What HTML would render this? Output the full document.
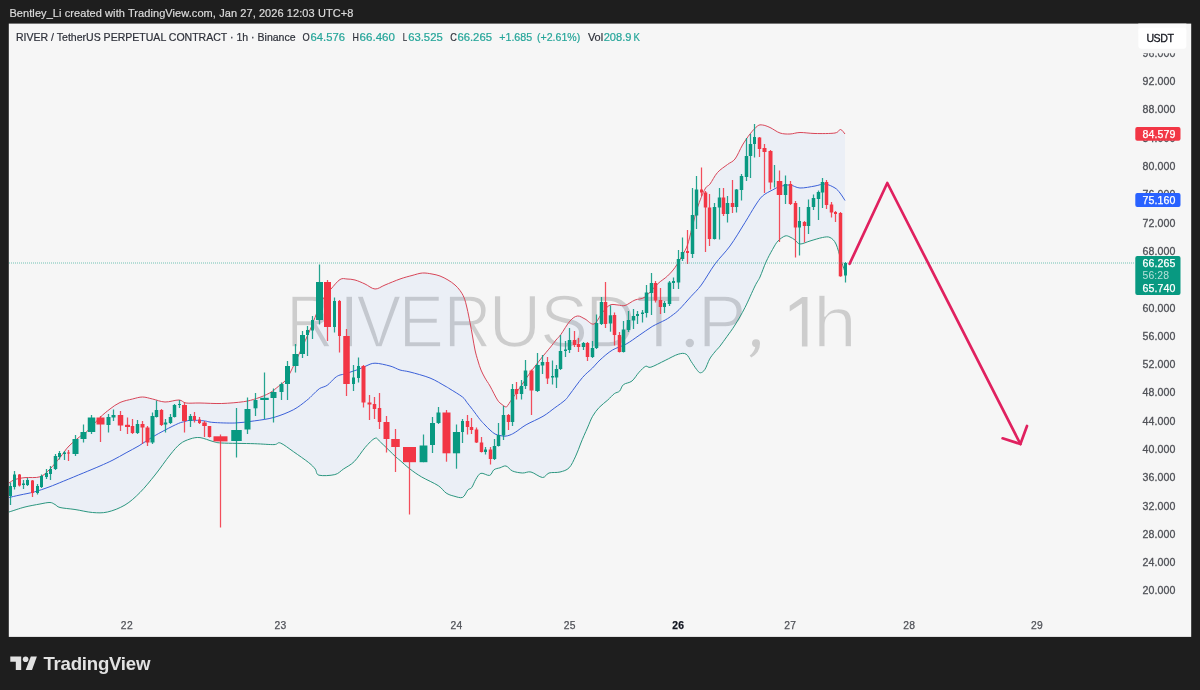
<!DOCTYPE html>
<html><head><meta charset="utf-8"><title>RIVERUSDT.P 1h</title>
<style>html,body{margin:0;padding:0;background:#1e1e1e;}body{width:1200px;height:690px;overflow:hidden;}svg{display:block;will-change:transform;}text{font-family:"Liberation Sans",sans-serif;}</style>
</head><body>
<svg width="1200" height="690" viewBox="0 0 1200 690">
<rect x="0" y="0" width="1200" height="690" fill="#1e1e1e"/>
<text x="9.4" y="17" font-size="11" fill="#dcdcdc" stroke="#dcdcdc" stroke-width="0.2" textLength="344" lengthAdjust="spacing">Bentley_Li created with TradingView.com, Jan 27, 2026 12:03 UTC+8</text>
<rect x="8.8" y="23.6" width="1182.4" height="613.3" fill="#f6f6f6"/>
<clipPath id="cc"><rect x="9" y="23.5" width="1182" height="613"/></clipPath>
<g clip-path="url(#cc)">
<g fill="#cdcdcd" stroke="#f6f6f6" stroke-width="1.6" font-size="74.1">
<text transform="translate(286.30 347.30) scale(0.8886 1)" vector-effect="non-scaling-stroke">R</text>
<text transform="translate(338.47 347.30) scale(1.0426 1)" vector-effect="non-scaling-stroke">I</text>
<text transform="translate(356.41 347.30) scale(0.9042 1)" vector-effect="non-scaling-stroke">V</text>
<text transform="translate(398.66 347.30) scale(0.9113 1)" vector-effect="non-scaling-stroke">E</text>
<text transform="translate(443.80 347.30) scale(0.8886 1)" vector-effect="non-scaling-stroke">R</text>
<text transform="translate(488.55 347.30) scale(0.9886 1)" vector-effect="non-scaling-stroke">U</text>
<text transform="translate(539.92 347.30) scale(0.9752 1)" vector-effect="non-scaling-stroke">S</text>
<text transform="translate(585.17 347.30) scale(0.9433 1)" vector-effect="non-scaling-stroke">D</text>
<text transform="translate(635.91 347.30) scale(1.0120 1)" vector-effect="non-scaling-stroke">T</text>
<text transform="translate(697.72 347.30) scale(0.9837 1)" vector-effect="non-scaling-stroke">P</text>
<text transform="translate(813.03 347.30) scale(1.0652 0.973)" vector-effect="non-scaling-stroke">h</text>
</g>
<circle cx="689.8" cy="343" r="4.2" fill="#cdcdcd"/>
<path d="M752 343.2a4 4 0 1 1 8 0.3Q760 352.5 751.2 357.6L749.7 355.6Q754.6 351.8 755.2 347.1A4 4 0 0 1 752 343.2Z" fill="#cdcdcd"/>
<path d="M789.7 305.8L802.3 297.1H807.5V346.5H801.9V303.6L789.7 311.6Z" fill="#cdcdcd"/>
<path d="M9.0 483.0C10.0 482.4 12.3 480.4 15.0 479.5C17.7 478.6 20.8 478.1 25.0 477.6C29.2 477.2 35.8 478.2 40.0 476.8C44.2 475.4 46.7 472.2 50.0 469.0C53.3 465.8 56.8 461.3 60.0 457.5C63.2 453.7 65.2 449.8 69.0 446.0C72.8 442.2 79.4 437.0 82.5 434.5C85.6 432.0 84.6 433.8 87.5 431.0C90.4 428.2 96.2 421.2 100.0 417.5C103.8 413.8 106.7 411.5 110.0 409.0C113.3 406.5 116.2 404.2 120.0 402.5C123.8 400.8 128.8 399.9 132.5 399.0C136.2 398.1 139.2 397.0 142.5 397.0C145.8 397.0 148.8 398.2 152.5 399.0C156.2 399.8 160.6 401.8 165.0 402.0C169.4 402.2 175.5 399.8 179.0 400.0C182.5 400.2 182.5 402.5 186.0 403.0C189.5 403.5 194.1 402.9 200.0 403.0C205.9 403.1 214.4 403.7 221.7 403.5C228.9 403.3 237.7 402.5 243.5 401.7C249.3 400.9 252.2 399.9 256.5 398.5C260.9 397.1 266.0 395.0 269.6 393.0C273.2 391.0 275.7 388.5 278.3 386.5C280.9 384.5 283.1 383.2 285.0 381.0C286.9 378.8 287.5 377.8 290.0 373.0C292.5 368.2 296.7 359.2 300.0 352.0C303.3 344.8 307.5 335.8 310.0 330.0C312.5 324.2 313.3 321.7 315.0 317.5C316.7 313.3 318.3 308.6 320.0 305.0C321.7 301.4 323.2 298.7 325.0 296.0C326.8 293.3 328.5 291.8 331.0 289.0C333.5 286.2 337.3 281.2 340.0 279.5C342.7 277.8 344.5 278.9 347.0 279.0C349.5 279.1 352.0 279.2 355.0 280.0C358.0 280.8 361.7 282.5 365.0 284.0C368.3 285.5 371.7 288.8 375.0 289.0C378.3 289.2 380.8 286.7 385.0 285.0C389.2 283.3 395.5 280.6 400.0 279.0C404.5 277.4 408.2 276.5 412.0 275.5C415.8 274.5 419.2 273.2 422.5 273.0C425.8 272.8 429.1 273.5 432.0 274.0C434.9 274.5 437.3 275.0 440.0 276.0C442.7 277.0 445.5 278.5 448.0 280.0C450.5 281.5 453.0 283.2 455.0 285.0C457.0 286.8 458.5 288.4 460.0 290.5C461.5 292.6 462.8 294.6 464.0 297.5C465.2 300.4 466.0 303.8 467.0 308.0C468.0 312.2 469.1 317.8 470.0 322.5C470.9 327.2 471.7 331.4 472.5 336.0C473.3 340.6 474.1 345.8 475.0 350.0C475.9 354.2 477.0 357.7 478.0 361.0C479.0 364.3 479.8 367.2 481.0 370.0C482.2 372.8 483.5 375.3 485.0 378.0C486.5 380.7 487.9 382.3 490.0 386.0C492.1 389.7 495.5 396.9 497.5 400.0C499.5 403.1 500.6 403.3 502.0 404.5C503.4 405.7 505.0 406.9 506.0 407.0C507.0 407.1 507.2 405.9 508.0 405.0C508.8 404.1 509.3 403.0 510.5 401.3C511.7 399.6 513.1 397.5 515.0 394.7C516.9 391.9 519.7 387.9 522.0 384.5C524.3 381.1 526.7 377.6 529.0 374.3C531.3 371.1 533.9 367.7 536.0 365.0C538.1 362.3 539.8 360.1 541.5 358.0C543.2 355.9 544.5 354.3 546.0 352.5C547.5 350.7 548.9 349.1 550.6 347.0C552.3 344.9 554.3 342.1 556.0 340.0C557.7 337.9 558.7 337.5 561.0 334.3C563.3 331.1 567.2 324.1 570.0 321.0C572.8 317.9 575.0 316.3 577.5 316.0C580.0 315.7 582.2 317.7 585.0 319.0C587.8 320.3 591.1 325.1 594.0 324.0C596.9 322.9 599.8 315.7 602.5 312.5C605.2 309.3 607.4 306.2 610.0 305.0C612.6 303.8 615.5 304.9 618.0 305.0C620.5 305.1 622.2 306.3 625.0 305.5C627.8 304.7 631.7 301.4 635.0 300.0C638.3 298.6 641.2 299.7 645.0 297.0C648.8 294.3 653.8 287.5 657.5 284.0C661.2 280.5 664.6 278.8 667.5 276.0C670.4 273.2 672.5 271.0 675.0 267.5C677.5 264.0 680.4 258.8 682.5 255.0C684.6 251.2 685.9 249.5 687.5 245.0C689.1 240.5 690.3 234.2 692.0 228.0C693.7 221.8 695.3 214.0 697.5 207.5C699.7 201.0 702.9 192.9 705.0 189.0C707.1 185.1 707.9 186.8 710.0 184.0C712.1 181.2 714.6 175.8 717.5 172.5C720.4 169.2 724.6 166.8 727.5 164.5C730.4 162.2 732.5 162.2 735.0 159.0C737.5 155.8 740.0 149.2 742.5 145.0C745.0 140.8 747.5 137.2 750.0 134.0C752.5 130.8 755.4 127.5 757.5 126.0C759.6 124.5 760.4 124.8 762.5 125.0C764.6 125.2 767.1 126.2 770.0 127.5C772.9 128.8 776.7 131.9 780.0 133.0C783.3 134.1 786.7 134.1 790.0 134.0C793.3 133.9 795.8 132.6 800.0 132.5C804.2 132.4 809.2 133.4 815.0 133.5C820.8 133.6 830.8 133.7 835.0 133.0C839.2 132.3 838.8 129.3 840.5 129.5C842.2 129.7 844.2 133.2 845.0 134.0L845.0 272.0C844.3 270.0 842.5 264.7 841.0 260.0C839.5 255.3 837.8 247.8 836.0 244.0C834.2 240.2 832.2 238.6 830.0 237.5C827.8 236.4 825.8 236.9 822.5 237.5C819.2 238.1 813.8 239.9 810.0 241.0C806.2 242.1 802.5 244.2 800.0 244.0C797.5 243.8 796.7 241.2 795.0 240.0C793.3 238.8 791.7 237.7 790.0 237.0C788.3 236.3 787.0 235.3 785.0 236.0C783.0 236.7 780.1 238.8 778.0 241.0C775.9 243.2 774.5 246.0 772.5 249.5C770.5 253.0 768.1 257.4 766.0 262.0C763.9 266.6 761.8 273.0 760.0 277.0C758.2 281.0 757.5 280.9 755.0 286.0C752.5 291.1 748.3 301.0 745.0 307.5C741.7 314.0 738.0 320.2 735.0 325.0C732.0 329.8 729.5 333.0 727.0 336.5C724.5 340.0 722.0 343.5 720.0 346.1C718.0 348.7 716.5 349.8 714.8 352.0C713.1 354.2 711.2 356.2 709.6 359.1C708.0 362.0 706.5 367.0 705.0 369.3C703.5 371.6 701.8 372.8 700.4 372.8C699.0 372.8 698.0 371.2 696.5 369.3C695.0 367.4 693.0 364.2 691.3 361.7C689.6 359.2 688.3 355.4 686.1 354.2C683.9 352.9 681.8 353.2 678.3 354.2C674.8 355.2 669.8 358.2 665.2 360.4C660.6 362.6 654.1 366.2 650.9 367.2C647.6 368.2 647.7 365.5 645.7 366.3C643.7 367.1 641.4 369.8 639.1 372.2C636.8 374.6 634.6 378.9 632.0 381.0C629.4 383.1 625.6 382.9 623.5 384.6C621.4 386.3 621.1 389.6 619.6 391.1C618.1 392.6 616.3 392.2 614.3 393.7C612.3 395.2 610.3 397.7 607.8 400.0C605.3 402.3 601.6 404.8 599.1 407.5C596.6 410.2 594.6 412.9 592.6 416.3C590.6 419.7 589.4 423.6 587.4 428.0C585.4 432.4 582.8 438.3 580.9 443.0C579.0 447.7 577.7 452.0 575.7 456.1C573.7 460.2 571.7 465.2 569.1 467.8C566.5 470.4 563.4 471.1 560.0 472.0C556.6 472.9 551.9 472.1 549.0 473.0C546.1 473.9 545.5 477.7 542.5 477.5C539.5 477.3 534.3 472.8 531.0 472.0C527.7 471.2 525.6 473.2 522.5 473.0C519.4 472.8 515.2 472.2 512.5 471.0C509.8 469.8 508.1 466.5 506.0 466.0C503.9 465.5 502.0 467.2 500.0 467.8C498.0 468.4 495.6 468.5 493.9 469.8C492.2 471.1 491.8 474.8 489.6 475.4C487.4 476.0 483.2 472.6 480.9 473.3C478.6 474.0 477.2 477.2 475.7 479.6C474.2 482.0 473.0 485.9 471.7 487.6C470.4 489.3 469.3 488.4 467.8 490.0C466.3 491.6 464.9 496.4 462.6 497.4C460.3 498.4 456.6 496.8 453.9 496.1C451.1 495.4 448.7 494.7 446.1 493.0C443.5 491.3 442.4 488.4 438.3 485.7C434.2 483.0 426.5 479.8 421.7 477.0C416.9 474.2 413.2 471.5 409.6 468.7C406.0 465.9 402.3 462.4 400.0 460.4C397.7 458.4 399.0 459.9 395.7 456.8C392.4 453.7 383.8 445.1 380.4 442.0C376.9 438.9 377.5 437.4 375.0 438.3C372.5 439.2 368.6 443.5 365.2 447.4C361.8 451.3 357.9 457.9 354.3 461.5C350.7 465.1 346.8 466.8 343.5 469.0C340.2 471.2 338.9 473.6 334.8 474.6C330.7 475.6 322.3 476.1 319.0 475.2C315.7 474.3 316.9 471.1 315.2 469.0C313.5 466.9 312.3 465.5 308.7 462.6C305.1 459.7 298.2 455.0 293.5 451.7C288.8 448.4 283.6 444.2 280.4 443.0C277.1 441.8 278.4 444.5 274.0 444.6C269.6 444.7 263.0 444.0 254.3 443.7C245.6 443.4 228.6 443.4 221.7 443.0C214.8 442.6 216.6 442.4 213.0 441.5C209.4 440.6 203.8 438.0 200.0 437.6C196.2 437.2 193.3 437.9 190.0 439.0C186.7 440.1 183.3 441.3 180.0 444.0C176.7 446.7 174.2 449.8 170.0 455.0C165.8 460.2 160.0 468.8 155.0 475.0C150.0 481.2 145.0 487.5 140.0 492.5C135.0 497.5 130.4 501.8 125.0 505.0C119.6 508.2 112.9 510.8 107.5 512.0C102.1 513.2 97.9 512.9 92.5 512.5C87.1 512.1 80.4 510.3 75.0 509.5C69.6 508.7 63.3 508.3 60.0 507.5C56.7 506.7 56.7 505.3 55.0 504.5C53.3 503.7 52.5 502.6 50.0 502.5C47.5 502.4 44.2 503.2 40.0 504.0C35.8 504.8 30.2 505.7 25.0 507.0C19.8 508.3 11.7 511.2 9.0 512.0Z" fill="#2878ff" fill-opacity="0.05"/>
<path d="M9.0 483.0C10.0 482.4 12.3 480.4 15.0 479.5C17.7 478.6 20.8 478.1 25.0 477.6C29.2 477.2 35.8 478.2 40.0 476.8C44.2 475.4 46.7 472.2 50.0 469.0C53.3 465.8 56.8 461.3 60.0 457.5C63.2 453.7 65.2 449.8 69.0 446.0C72.8 442.2 79.4 437.0 82.5 434.5C85.6 432.0 84.6 433.8 87.5 431.0C90.4 428.2 96.2 421.2 100.0 417.5C103.8 413.8 106.7 411.5 110.0 409.0C113.3 406.5 116.2 404.2 120.0 402.5C123.8 400.8 128.8 399.9 132.5 399.0C136.2 398.1 139.2 397.0 142.5 397.0C145.8 397.0 148.8 398.2 152.5 399.0C156.2 399.8 160.6 401.8 165.0 402.0C169.4 402.2 175.5 399.8 179.0 400.0C182.5 400.2 182.5 402.5 186.0 403.0C189.5 403.5 194.1 402.9 200.0 403.0C205.9 403.1 214.4 403.7 221.7 403.5C228.9 403.3 237.7 402.5 243.5 401.7C249.3 400.9 252.2 399.9 256.5 398.5C260.9 397.1 266.0 395.0 269.6 393.0C273.2 391.0 275.7 388.5 278.3 386.5C280.9 384.5 283.1 383.2 285.0 381.0C286.9 378.8 287.5 377.8 290.0 373.0C292.5 368.2 296.7 359.2 300.0 352.0C303.3 344.8 307.5 335.8 310.0 330.0C312.5 324.2 313.3 321.7 315.0 317.5C316.7 313.3 318.3 308.6 320.0 305.0C321.7 301.4 323.2 298.7 325.0 296.0C326.8 293.3 328.5 291.8 331.0 289.0C333.5 286.2 337.3 281.2 340.0 279.5C342.7 277.8 344.5 278.9 347.0 279.0C349.5 279.1 352.0 279.2 355.0 280.0C358.0 280.8 361.7 282.5 365.0 284.0C368.3 285.5 371.7 288.8 375.0 289.0C378.3 289.2 380.8 286.7 385.0 285.0C389.2 283.3 395.5 280.6 400.0 279.0C404.5 277.4 408.2 276.5 412.0 275.5C415.8 274.5 419.2 273.2 422.5 273.0C425.8 272.8 429.1 273.5 432.0 274.0C434.9 274.5 437.3 275.0 440.0 276.0C442.7 277.0 445.5 278.5 448.0 280.0C450.5 281.5 453.0 283.2 455.0 285.0C457.0 286.8 458.5 288.4 460.0 290.5C461.5 292.6 462.8 294.6 464.0 297.5C465.2 300.4 466.0 303.8 467.0 308.0C468.0 312.2 469.1 317.8 470.0 322.5C470.9 327.2 471.7 331.4 472.5 336.0C473.3 340.6 474.1 345.8 475.0 350.0C475.9 354.2 477.0 357.7 478.0 361.0C479.0 364.3 479.8 367.2 481.0 370.0C482.2 372.8 483.5 375.3 485.0 378.0C486.5 380.7 487.9 382.3 490.0 386.0C492.1 389.7 495.5 396.9 497.5 400.0C499.5 403.1 500.6 403.3 502.0 404.5C503.4 405.7 505.0 406.9 506.0 407.0C507.0 407.1 507.2 405.9 508.0 405.0C508.8 404.1 509.3 403.0 510.5 401.3C511.7 399.6 513.1 397.5 515.0 394.7C516.9 391.9 519.7 387.9 522.0 384.5C524.3 381.1 526.7 377.6 529.0 374.3C531.3 371.1 533.9 367.7 536.0 365.0C538.1 362.3 539.8 360.1 541.5 358.0C543.2 355.9 544.5 354.3 546.0 352.5C547.5 350.7 548.9 349.1 550.6 347.0C552.3 344.9 554.3 342.1 556.0 340.0C557.7 337.9 558.7 337.5 561.0 334.3C563.3 331.1 567.2 324.1 570.0 321.0C572.8 317.9 575.0 316.3 577.5 316.0C580.0 315.7 582.2 317.7 585.0 319.0C587.8 320.3 591.1 325.1 594.0 324.0C596.9 322.9 599.8 315.7 602.5 312.5C605.2 309.3 607.4 306.2 610.0 305.0C612.6 303.8 615.5 304.9 618.0 305.0C620.5 305.1 622.2 306.3 625.0 305.5C627.8 304.7 631.7 301.4 635.0 300.0C638.3 298.6 641.2 299.7 645.0 297.0C648.8 294.3 653.8 287.5 657.5 284.0C661.2 280.5 664.6 278.8 667.5 276.0C670.4 273.2 672.5 271.0 675.0 267.5C677.5 264.0 680.4 258.8 682.5 255.0C684.6 251.2 685.9 249.5 687.5 245.0C689.1 240.5 690.3 234.2 692.0 228.0C693.7 221.8 695.3 214.0 697.5 207.5C699.7 201.0 702.9 192.9 705.0 189.0C707.1 185.1 707.9 186.8 710.0 184.0C712.1 181.2 714.6 175.8 717.5 172.5C720.4 169.2 724.6 166.8 727.5 164.5C730.4 162.2 732.5 162.2 735.0 159.0C737.5 155.8 740.0 149.2 742.5 145.0C745.0 140.8 747.5 137.2 750.0 134.0C752.5 130.8 755.4 127.5 757.5 126.0C759.6 124.5 760.4 124.8 762.5 125.0C764.6 125.2 767.1 126.2 770.0 127.5C772.9 128.8 776.7 131.9 780.0 133.0C783.3 134.1 786.7 134.1 790.0 134.0C793.3 133.9 795.8 132.6 800.0 132.5C804.2 132.4 809.2 133.4 815.0 133.5C820.8 133.6 830.8 133.7 835.0 133.0C839.2 132.3 838.8 129.3 840.5 129.5C842.2 129.7 844.2 133.2 845.0 134.0" fill="none" stroke="#d84658" stroke-width="1"/>
<path d="M9.0 512.0C11.7 511.2 19.8 508.3 25.0 507.0C30.2 505.7 35.8 504.8 40.0 504.0C44.2 503.2 47.5 502.4 50.0 502.5C52.5 502.6 53.3 503.7 55.0 504.5C56.7 505.3 56.7 506.7 60.0 507.5C63.3 508.3 69.6 508.7 75.0 509.5C80.4 510.3 87.1 512.1 92.5 512.5C97.9 512.9 102.1 513.2 107.5 512.0C112.9 510.8 119.6 508.2 125.0 505.0C130.4 501.8 135.0 497.5 140.0 492.5C145.0 487.5 150.0 481.2 155.0 475.0C160.0 468.8 165.8 460.2 170.0 455.0C174.2 449.8 176.7 446.7 180.0 444.0C183.3 441.3 186.7 440.1 190.0 439.0C193.3 437.9 196.2 437.2 200.0 437.6C203.8 438.0 209.4 440.6 213.0 441.5C216.6 442.4 214.8 442.6 221.7 443.0C228.6 443.4 245.6 443.4 254.3 443.7C263.0 444.0 269.6 444.7 274.0 444.6C278.4 444.5 277.1 441.8 280.4 443.0C283.6 444.2 288.8 448.4 293.5 451.7C298.2 455.0 305.1 459.7 308.7 462.6C312.3 465.5 313.5 466.9 315.2 469.0C316.9 471.1 315.7 474.3 319.0 475.2C322.3 476.1 330.7 475.6 334.8 474.6C338.9 473.6 340.2 471.2 343.5 469.0C346.8 466.8 350.7 465.1 354.3 461.5C357.9 457.9 361.8 451.3 365.2 447.4C368.6 443.5 372.5 439.2 375.0 438.3C377.5 437.4 376.9 438.9 380.4 442.0C383.8 445.1 392.4 453.7 395.7 456.8C399.0 459.9 397.7 458.4 400.0 460.4C402.3 462.4 406.0 465.9 409.6 468.7C413.2 471.5 416.9 474.2 421.7 477.0C426.5 479.8 434.2 483.0 438.3 485.7C442.4 488.4 443.5 491.3 446.1 493.0C448.7 494.7 451.1 495.4 453.9 496.1C456.6 496.8 460.3 498.4 462.6 497.4C464.9 496.4 466.3 491.6 467.8 490.0C469.3 488.4 470.4 489.3 471.7 487.6C473.0 485.9 474.2 482.0 475.7 479.6C477.2 477.2 478.6 474.0 480.9 473.3C483.2 472.6 487.4 476.0 489.6 475.4C491.8 474.8 492.2 471.1 493.9 469.8C495.6 468.5 498.0 468.4 500.0 467.8C502.0 467.2 503.9 465.5 506.0 466.0C508.1 466.5 509.8 469.8 512.5 471.0C515.2 472.2 519.4 472.8 522.5 473.0C525.6 473.2 527.7 471.2 531.0 472.0C534.3 472.8 539.5 477.3 542.5 477.5C545.5 477.7 546.1 473.9 549.0 473.0C551.9 472.1 556.6 472.9 560.0 472.0C563.4 471.1 566.5 470.4 569.1 467.8C571.7 465.2 573.7 460.2 575.7 456.1C577.7 452.0 579.0 447.7 580.9 443.0C582.8 438.3 585.4 432.4 587.4 428.0C589.4 423.6 590.6 419.7 592.6 416.3C594.6 412.9 596.6 410.2 599.1 407.5C601.6 404.8 605.3 402.3 607.8 400.0C610.3 397.7 612.3 395.2 614.3 393.7C616.3 392.2 618.1 392.6 619.6 391.1C621.1 389.6 621.4 386.3 623.5 384.6C625.6 382.9 629.4 383.1 632.0 381.0C634.6 378.9 636.8 374.6 639.1 372.2C641.4 369.8 643.7 367.1 645.7 366.3C647.7 365.5 647.6 368.2 650.9 367.2C654.1 366.2 660.6 362.6 665.2 360.4C669.8 358.2 674.8 355.2 678.3 354.2C681.8 353.2 683.9 352.9 686.1 354.2C688.3 355.4 689.6 359.2 691.3 361.7C693.0 364.2 695.0 367.4 696.5 369.3C698.0 371.2 699.0 372.8 700.4 372.8C701.8 372.8 703.5 371.6 705.0 369.3C706.5 367.0 708.0 362.0 709.6 359.1C711.2 356.2 713.1 354.2 714.8 352.0C716.5 349.8 718.0 348.7 720.0 346.1C722.0 343.5 724.5 340.0 727.0 336.5C729.5 333.0 732.0 329.8 735.0 325.0C738.0 320.2 741.7 314.0 745.0 307.5C748.3 301.0 752.5 291.1 755.0 286.0C757.5 280.9 758.2 281.0 760.0 277.0C761.8 273.0 763.9 266.6 766.0 262.0C768.1 257.4 770.5 253.0 772.5 249.5C774.5 246.0 775.9 243.2 778.0 241.0C780.1 238.8 783.0 236.7 785.0 236.0C787.0 235.3 788.3 236.3 790.0 237.0C791.7 237.7 793.3 238.8 795.0 240.0C796.7 241.2 797.5 243.8 800.0 244.0C802.5 244.2 806.2 242.1 810.0 241.0C813.8 239.9 819.2 238.1 822.5 237.5C825.8 236.9 827.8 236.4 830.0 237.5C832.2 238.6 834.2 240.2 836.0 244.0C837.8 247.8 839.5 255.3 841.0 260.0C842.5 264.7 844.3 270.0 845.0 272.0" fill="none" stroke="#2b967f" stroke-width="1"/>
<path d="M9.0 497.5C10.8 497.1 15.8 495.9 20.0 495.0C24.2 494.1 29.6 493.2 34.4 491.9C39.2 490.6 44.1 488.8 49.0 487.0C53.9 485.2 58.0 483.4 63.7 481.1C69.4 478.8 77.2 475.5 83.3 473.0C89.3 470.5 95.0 468.2 100.0 466.0C105.0 463.8 108.7 462.2 113.0 460.0C117.3 457.8 121.8 455.2 126.1 452.8C130.4 450.4 134.8 448.3 139.1 445.7C143.4 443.1 147.8 439.8 152.2 437.2C156.5 434.6 160.8 432.3 165.2 430.0C169.5 427.7 175.0 424.9 178.3 423.5C181.6 422.1 182.6 422.1 184.8 421.5C187.0 420.9 188.1 420.3 191.3 420.2C194.6 420.1 200.7 420.5 204.3 420.9C207.9 421.3 207.9 422.0 213.0 422.4C218.1 422.8 227.9 423.2 234.8 423.0C241.7 422.8 247.8 421.8 254.3 420.9C260.8 420.0 267.5 419.2 274.0 417.4C280.5 415.5 287.9 412.6 293.3 409.8C298.7 407.0 303.1 403.2 306.3 400.7C309.6 398.2 310.6 396.8 312.8 394.8C315.0 392.8 316.9 390.3 319.3 388.7C321.7 387.1 324.6 387.1 327.2 385.3C329.8 383.5 332.9 379.5 335.0 377.8C337.1 376.1 338.3 375.6 340.0 375.0C341.7 374.4 343.0 374.6 345.0 374.0C347.0 373.4 349.8 372.2 352.0 371.5C354.2 370.8 355.7 370.4 358.0 369.5C360.3 368.6 363.2 367.1 366.0 366.0C368.8 364.9 371.0 363.2 375.0 363.2C379.0 363.2 385.8 364.9 390.0 366.0C394.2 367.1 396.7 369.0 400.0 370.0C403.3 371.0 405.0 370.7 410.0 372.0C415.0 373.3 424.2 375.7 430.0 378.0C435.8 380.3 441.7 384.2 445.0 386.0C448.3 387.8 447.1 387.2 450.0 389.0C452.9 390.8 459.7 394.8 462.5 397.0C465.3 399.2 465.3 400.4 467.0 402.5C468.7 404.6 470.3 406.7 472.5 409.5C474.7 412.3 477.9 416.9 480.0 419.5C482.1 422.1 483.3 423.2 485.0 425.0C486.7 426.8 488.3 428.5 490.0 430.0C491.7 431.5 493.3 433.1 495.0 434.0C496.7 434.9 498.3 435.1 500.0 435.5C501.7 435.9 503.3 436.3 505.0 436.2C506.7 436.1 508.2 435.7 510.0 435.0C511.8 434.3 513.0 433.7 515.7 432.0C518.4 430.3 521.6 427.4 526.1 424.8C530.6 422.2 538.2 419.1 543.0 416.3C547.8 413.5 551.1 410.5 554.8 407.8C558.5 405.1 562.7 402.3 565.2 400.0C567.7 397.7 567.1 397.8 570.0 394.0C572.9 390.2 578.8 381.8 582.5 377.5C586.2 373.2 589.6 370.9 592.5 368.0C595.4 365.1 596.7 363.0 600.0 360.0C603.3 357.0 608.1 352.6 612.5 350.0C616.9 347.4 621.7 346.5 626.1 344.1C630.5 341.7 634.8 338.3 639.1 335.4C643.5 332.5 647.9 329.1 652.2 326.5C656.6 323.9 661.9 321.8 665.2 320.0C668.5 318.2 669.7 317.2 672.0 315.5C674.3 313.8 676.1 312.6 679.2 309.5C682.3 306.4 687.1 300.8 690.8 296.7C694.5 292.6 697.3 290.4 701.3 285.0C705.3 279.6 710.2 270.5 715.0 264.0C719.8 257.5 725.0 252.9 730.0 246.0C735.0 239.1 740.8 229.2 745.0 222.5C749.2 215.8 752.1 210.4 755.0 206.0C757.9 201.6 759.6 198.7 762.5 196.0C765.4 193.3 769.6 191.6 772.5 190.0C775.4 188.4 777.1 187.3 780.0 186.5C782.9 185.7 786.7 184.8 790.0 185.0C793.3 185.2 795.8 187.8 800.0 188.0C804.2 188.2 810.8 186.7 815.0 186.0C819.2 185.3 821.7 183.7 825.0 184.0C828.3 184.3 832.5 186.5 835.0 188.0C837.5 189.5 838.3 190.9 840.0 193.0C841.7 195.1 844.2 199.2 845.0 200.5" fill="none" stroke="#3b60d8" stroke-width="1"/>
<path d="M10.5 482.5V505" stroke="#089981" stroke-width="1.25" stroke-opacity="0.88"/>
<rect x="9.00" y="486" width="3" height="10.0" fill="#089981"/>
<path d="M14.5 471V489.5" stroke="#089981" stroke-width="1.25" stroke-opacity="0.88"/>
<rect x="13.00" y="474.5" width="3" height="12.5" fill="#089981"/>
<path d="M19.5 474V486.5" stroke="#f23645" stroke-width="1.25" stroke-opacity="0.88"/>
<rect x="18.00" y="474.5" width="3" height="11.0" fill="#f23645"/>
<path d="M23.5 480V489" stroke="#089981" stroke-width="1.25" stroke-opacity="0.88"/>
<rect x="22.00" y="483.5" width="3" height="1.5" fill="#089981"/>
<path d="M27.5 478V486" stroke="#089981" stroke-width="1.25" stroke-opacity="0.88"/>
<rect x="26.00" y="480" width="3" height="5.0" fill="#089981"/>
<path d="M32.5 480V497" stroke="#f23645" stroke-width="1.25" stroke-opacity="0.88"/>
<rect x="31.00" y="480.5" width="3" height="12.5" fill="#f23645"/>
<path d="M37.5 484V494.5" stroke="#089981" stroke-width="1.25" stroke-opacity="0.88"/>
<rect x="36.00" y="486" width="3" height="7.0" fill="#089981"/>
<path d="M41.5 474.5V488" stroke="#089981" stroke-width="1.25" stroke-opacity="0.88"/>
<rect x="40.00" y="476" width="3" height="11.0" fill="#089981"/>
<path d="M46.5 469V479" stroke="#089981" stroke-width="1.25" stroke-opacity="0.88"/>
<rect x="45.00" y="473" width="3" height="4.0" fill="#089981"/>
<path d="M50.5 466V480" stroke="#089981" stroke-width="1.25" stroke-opacity="0.88"/>
<rect x="49.00" y="469" width="3" height="5.0" fill="#089981"/>
<path d="M55.5 454V470" stroke="#089981" stroke-width="1.25" stroke-opacity="0.88"/>
<rect x="53.75" y="456" width="3.5" height="13.0" fill="#089981"/>
<path d="M59.5 451V459.5" stroke="#089981" stroke-width="1.25" stroke-opacity="0.88"/>
<rect x="58.00" y="453" width="3" height="4.0" fill="#089981"/>
<path d="M64.5 451V460" stroke="#089981" stroke-width="1.25" stroke-opacity="0.88"/>
<rect x="63.00" y="452.5" width="3" height="1.5" fill="#089981"/>
<path d="M68.5 450V461" stroke="#f23645" stroke-width="1.25" stroke-opacity="0.88"/>
<rect x="67.00" y="452.5" width="3" height="1.0" fill="#f23645"/>
<path d="M75.5 435V456" stroke="#089981" stroke-width="1.25" stroke-opacity="0.88"/>
<rect x="72.50" y="439" width="6" height="15.0" fill="#089981"/>
<path d="M83.5 424.5V442.5" stroke="#089981" stroke-width="1.25" stroke-opacity="0.88"/>
<rect x="80.50" y="432" width="6" height="7.0" fill="#089981"/>
<path d="M91.5 415V434" stroke="#089981" stroke-width="1.25" stroke-opacity="0.88"/>
<rect x="87.75" y="417.5" width="7.5" height="14.5" fill="#089981"/>
<path d="M100.5 416V442" stroke="#f23645" stroke-width="1.25" stroke-opacity="0.88"/>
<rect x="96.50" y="417.5" width="8" height="7.0" fill="#f23645"/>
<path d="M108.5 414V432.5" stroke="#089981" stroke-width="1.25" stroke-opacity="0.88"/>
<rect x="106.50" y="417" width="4" height="8.0" fill="#089981"/>
<path d="M113.5 409.5V421" stroke="#089981" stroke-width="1.25" stroke-opacity="0.88"/>
<rect x="111.50" y="415" width="4" height="2.5" fill="#089981"/>
<path d="M120.5 411V431" stroke="#f23645" stroke-width="1.25" stroke-opacity="0.88"/>
<rect x="117.75" y="415" width="5.5" height="10.5" fill="#f23645"/>
<path d="M127.5 417.5V434" stroke="#f23645" stroke-width="1.25" stroke-opacity="0.88"/>
<rect x="125.00" y="424.8" width="5" height="2.2" fill="#f23645"/>
<path d="M132.5 419V434" stroke="#f23645" stroke-width="1.25" stroke-opacity="0.88"/>
<rect x="130.75" y="426" width="3.5" height="7.0" fill="#f23645"/>
<path d="M137.5 420V434" stroke="#089981" stroke-width="1.25" stroke-opacity="0.88"/>
<rect x="135.75" y="424" width="3.5" height="9.0" fill="#089981"/>
<path d="M142.5 421V444" stroke="#f23645" stroke-width="1.25" stroke-opacity="0.88"/>
<rect x="140.50" y="424" width="4" height="3.5" fill="#f23645"/>
<path d="M147.5 426V446" stroke="#f23645" stroke-width="1.25" stroke-opacity="0.88"/>
<rect x="145.50" y="427.5" width="4" height="15.0" fill="#f23645"/>
<path d="M152.5 412.5V444" stroke="#089981" stroke-width="1.25" stroke-opacity="0.88"/>
<rect x="150.50" y="416" width="4" height="26.5" fill="#089981"/>
<path d="M156.5 400.5V417.5" stroke="#089981" stroke-width="1.25" stroke-opacity="0.88"/>
<rect x="154.75" y="410" width="3.5" height="7.0" fill="#089981"/>
<path d="M161.5 409V426" stroke="#f23645" stroke-width="1.25" stroke-opacity="0.88"/>
<rect x="159.75" y="410" width="3.5" height="15.0" fill="#f23645"/>
<path d="M165.5 419V432.5" stroke="#089981" stroke-width="1.25" stroke-opacity="0.88"/>
<rect x="163.75" y="422.5" width="3.5" height="2.0" fill="#089981"/>
<path d="M170.5 414V424" stroke="#089981" stroke-width="1.25" stroke-opacity="0.88"/>
<rect x="168.75" y="417" width="3.5" height="6.0" fill="#089981"/>
<path d="M174.5 404V417.5" stroke="#089981" stroke-width="1.25" stroke-opacity="0.88"/>
<rect x="172.75" y="405" width="3.5" height="12.0" fill="#089981"/>
<path d="M179.5 400V408" stroke="#089981" stroke-width="1.25" stroke-opacity="0.88"/>
<rect x="178.00" y="404" width="3" height="1.0" fill="#089981"/>
<path d="M184.5 403V432.5" stroke="#f23645" stroke-width="1.25" stroke-opacity="0.88"/>
<rect x="182.00" y="405" width="5" height="16.0" fill="#f23645"/>
<path d="M190.5 414V427" stroke="#089981" stroke-width="1.25" stroke-opacity="0.88"/>
<rect x="188.75" y="416" width="3.5" height="5.0" fill="#089981"/>
<path d="M194.5 412V422.5" stroke="#f23645" stroke-width="1.25" stroke-opacity="0.88"/>
<rect x="193.00" y="416" width="3" height="4.0" fill="#f23645"/>
<path d="M199.5 417V424" stroke="#f23645" stroke-width="1.25" stroke-opacity="0.88"/>
<rect x="198.00" y="419.5" width="3" height="3.5" fill="#f23645"/>
<path d="M204.5 421V437" stroke="#f23645" stroke-width="1.25" stroke-opacity="0.88"/>
<rect x="202.25" y="422.5" width="4.5" height="3.5" fill="#f23645"/>
<path d="M209.5 426V437.5" stroke="#f23645" stroke-width="1.25" stroke-opacity="0.88"/>
<rect x="207.75" y="426" width="3.5" height="11.0" fill="#f23645"/>
<path d="M220.5 434.5V527.5" stroke="#f23645" stroke-width="1.25" stroke-opacity="0.88"/>
<rect x="213.50" y="436.3" width="14" height="5.1" fill="#f23645"/>
<path d="M236.5 408V457.5" stroke="#089981" stroke-width="1.25" stroke-opacity="0.88"/>
<rect x="231.25" y="430" width="10.5" height="11.0" fill="#089981"/>
<path d="M247.5 397.5V434" stroke="#089981" stroke-width="1.25" stroke-opacity="0.88"/>
<rect x="244.50" y="409" width="6" height="20.5" fill="#089981"/>
<path d="M255.5 393V416" stroke="#089981" stroke-width="1.25" stroke-opacity="0.88"/>
<rect x="253.50" y="400" width="4" height="8.3" fill="#089981"/>
<path d="M264.5 372.5V419" stroke="#089981" stroke-width="1.25" stroke-opacity="0.88"/>
<rect x="260.25" y="397.8" width="8.5" height="2.2" fill="#089981"/>
<path d="M273.5 388.5V422.5" stroke="#089981" stroke-width="1.25" stroke-opacity="0.88"/>
<rect x="270.50" y="392" width="6" height="6.0" fill="#089981"/>
<path d="M281.5 382.5V400" stroke="#089981" stroke-width="1.25" stroke-opacity="0.88"/>
<rect x="279.50" y="384" width="4" height="8.0" fill="#089981"/>
<path d="M287.5 361V400" stroke="#089981" stroke-width="1.25" stroke-opacity="0.88"/>
<rect x="285.00" y="366" width="5" height="18.0" fill="#089981"/>
<path d="M295.5 344V372.5" stroke="#089981" stroke-width="1.25" stroke-opacity="0.88"/>
<rect x="292.50" y="354" width="6" height="12.0" fill="#089981"/>
<path d="M302.5 331V358" stroke="#089981" stroke-width="1.25" stroke-opacity="0.88"/>
<rect x="300.00" y="335" width="5" height="19.0" fill="#089981"/>
<path d="M307.5 326V356" stroke="#089981" stroke-width="1.25" stroke-opacity="0.88"/>
<rect x="306.00" y="330" width="3" height="5.0" fill="#089981"/>
<path d="M312.5 316V339" stroke="#089981" stroke-width="1.25" stroke-opacity="0.88"/>
<rect x="311.00" y="320" width="3" height="10.5" fill="#089981"/>
<path d="M319.5 264.5V324.5" stroke="#089981" stroke-width="1.25" stroke-opacity="0.88"/>
<rect x="316.00" y="282" width="7" height="38.0" fill="#089981"/>
<path d="M327.5 280V341" stroke="#f23645" stroke-width="1.25" stroke-opacity="0.88"/>
<rect x="324.00" y="282" width="7" height="45.0" fill="#f23645"/>
<path d="M334.5 297.5V332.5" stroke="#089981" stroke-width="1.25" stroke-opacity="0.88"/>
<rect x="333.00" y="301" width="3" height="26.0" fill="#089981"/>
<path d="M339.5 300V352.5" stroke="#f23645" stroke-width="1.25" stroke-opacity="0.88"/>
<rect x="338.00" y="301" width="3" height="35.0" fill="#f23645"/>
<path d="M346.5 329V396" stroke="#f23645" stroke-width="1.25" stroke-opacity="0.88"/>
<rect x="343.25" y="336" width="6.5" height="48.0" fill="#f23645"/>
<path d="M353.5 365V391" stroke="#089981" stroke-width="1.25" stroke-opacity="0.88"/>
<rect x="352.00" y="377.5" width="3" height="6.5" fill="#089981"/>
<path d="M358.5 357.5V382.5" stroke="#089981" stroke-width="1.25" stroke-opacity="0.88"/>
<rect x="357.00" y="366" width="3" height="12.0" fill="#089981"/>
<path d="M363.5 365V407.5" stroke="#f23645" stroke-width="1.25" stroke-opacity="0.88"/>
<rect x="361.50" y="366" width="4" height="36.5" fill="#f23645"/>
<path d="M369.5 395V420" stroke="#f23645" stroke-width="1.25" stroke-opacity="0.88"/>
<rect x="367.50" y="402.5" width="4" height="2.0" fill="#f23645"/>
<path d="M374.5 397V419" stroke="#f23645" stroke-width="1.25" stroke-opacity="0.88"/>
<rect x="372.75" y="404" width="3.5" height="5.0" fill="#f23645"/>
<path d="M379.5 393V429" stroke="#f23645" stroke-width="1.25" stroke-opacity="0.88"/>
<rect x="377.75" y="408" width="3.5" height="14.0" fill="#f23645"/>
<path d="M386.5 416V452.5" stroke="#f23645" stroke-width="1.25" stroke-opacity="0.88"/>
<rect x="383.50" y="422" width="6" height="17.0" fill="#f23645"/>
<path d="M395.5 429V472" stroke="#f23645" stroke-width="1.25" stroke-opacity="0.88"/>
<rect x="391.25" y="439" width="8.5" height="8.0" fill="#f23645"/>
<path d="M409.5 447V514.5" stroke="#f23645" stroke-width="1.25" stroke-opacity="0.88"/>
<rect x="403.00" y="447" width="13" height="15.2" fill="#f23645"/>
<path d="M423.5 434.5V462.2" stroke="#089981" stroke-width="1.25" stroke-opacity="0.88"/>
<rect x="419.60" y="445.5" width="7.8" height="16.7" fill="#089981"/>
<path d="M432.5 417V453" stroke="#089981" stroke-width="1.25" stroke-opacity="0.88"/>
<rect x="430.00" y="423" width="5" height="22.0" fill="#089981"/>
<path d="M438.5 407V424" stroke="#089981" stroke-width="1.25" stroke-opacity="0.88"/>
<rect x="436.50" y="412.5" width="4" height="10.5" fill="#089981"/>
<path d="M446.5 410V461.7" stroke="#f23645" stroke-width="1.25" stroke-opacity="0.88"/>
<rect x="442.50" y="412.5" width="8" height="40.8" fill="#f23645"/>
<path d="M456.5 424.5V468.7" stroke="#089981" stroke-width="1.25" stroke-opacity="0.88"/>
<rect x="452.90" y="432" width="7.2" height="21.3" fill="#089981"/>
<path d="M462.5 419V443" stroke="#089981" stroke-width="1.25" stroke-opacity="0.88"/>
<rect x="461.00" y="421" width="3" height="11.0" fill="#089981"/>
<path d="M467.5 415V434.5" stroke="#f23645" stroke-width="1.25" stroke-opacity="0.88"/>
<rect x="465.75" y="421" width="3.5" height="6.0" fill="#f23645"/>
<path d="M471.5 418V434" stroke="#f23645" stroke-width="1.25" stroke-opacity="0.88"/>
<rect x="469.75" y="427" width="3.5" height="3.0" fill="#f23645"/>
<path d="M476.5 427.5V443" stroke="#f23645" stroke-width="1.25" stroke-opacity="0.88"/>
<rect x="474.75" y="429.5" width="3.5" height="13.0" fill="#f23645"/>
<path d="M481.5 437V452.5" stroke="#f23645" stroke-width="1.25" stroke-opacity="0.88"/>
<rect x="479.75" y="442.5" width="3.5" height="9.5" fill="#f23645"/>
<path d="M485.5 447V454.5" stroke="#089981" stroke-width="1.25" stroke-opacity="0.88"/>
<rect x="484.00" y="449.5" width="3" height="2.5" fill="#089981"/>
<path d="M490.5 447V464.5" stroke="#f23645" stroke-width="1.25" stroke-opacity="0.88"/>
<rect x="488.75" y="449.5" width="3.5" height="9.5" fill="#f23645"/>
<path d="M494.5 439V460" stroke="#089981" stroke-width="1.25" stroke-opacity="0.88"/>
<rect x="492.75" y="446" width="3.5" height="13.0" fill="#089981"/>
<path d="M498.5 423V446.5" stroke="#089981" stroke-width="1.25" stroke-opacity="0.88"/>
<rect x="496.75" y="435" width="3.5" height="11.0" fill="#089981"/>
<path d="M503.5 406V440" stroke="#089981" stroke-width="1.25" stroke-opacity="0.88"/>
<rect x="501.75" y="415" width="3.5" height="20.5" fill="#089981"/>
<path d="M508.5 414V430" stroke="#f23645" stroke-width="1.25" stroke-opacity="0.88"/>
<rect x="506.75" y="415" width="3.5" height="7.0" fill="#f23645"/>
<path d="M512.5 384V426" stroke="#089981" stroke-width="1.25" stroke-opacity="0.88"/>
<rect x="510.75" y="389" width="3.5" height="33.0" fill="#089981"/>
<path d="M516.5 382V399.5" stroke="#f23645" stroke-width="1.25" stroke-opacity="0.88"/>
<rect x="514.75" y="389" width="3.5" height="5.0" fill="#f23645"/>
<path d="M521.5 380V399.5" stroke="#089981" stroke-width="1.25" stroke-opacity="0.88"/>
<rect x="519.75" y="386" width="3.5" height="8.0" fill="#089981"/>
<path d="M525.5 360V389" stroke="#089981" stroke-width="1.25" stroke-opacity="0.88"/>
<rect x="523.75" y="370.5" width="3.5" height="15.5" fill="#089981"/>
<path d="M531.5 369.5V415" stroke="#f23645" stroke-width="1.25" stroke-opacity="0.88"/>
<rect x="529.50" y="370.5" width="4" height="20.0" fill="#f23645"/>
<path d="M537.5 353V392" stroke="#089981" stroke-width="1.25" stroke-opacity="0.88"/>
<rect x="535.25" y="365" width="4.5" height="26.0" fill="#089981"/>
<path d="M542.5 355V374" stroke="#089981" stroke-width="1.25" stroke-opacity="0.88"/>
<rect x="540.75" y="362" width="3.5" height="3.5" fill="#089981"/>
<path d="M547.5 357V384" stroke="#f23645" stroke-width="1.25" stroke-opacity="0.88"/>
<rect x="545.75" y="362" width="3.5" height="16.5" fill="#f23645"/>
<path d="M552.5 360.5V384.5" stroke="#089981" stroke-width="1.25" stroke-opacity="0.88"/>
<rect x="551.00" y="376" width="3" height="1.5" fill="#089981"/>
<path d="M556.5 365V388" stroke="#089981" stroke-width="1.25" stroke-opacity="0.88"/>
<rect x="554.75" y="369" width="3.5" height="8.5" fill="#089981"/>
<path d="M560.5 335V370" stroke="#089981" stroke-width="1.25" stroke-opacity="0.88"/>
<rect x="558.75" y="351" width="3.5" height="18.0" fill="#089981"/>
<path d="M565.5 341V357" stroke="#089981" stroke-width="1.25" stroke-opacity="0.88"/>
<rect x="564.00" y="349.5" width="3" height="1.5" fill="#089981"/>
<path d="M569.5 328V353" stroke="#089981" stroke-width="1.25" stroke-opacity="0.88"/>
<rect x="567.75" y="340" width="3.5" height="10.0" fill="#089981"/>
<path d="M574.5 331V347" stroke="#f23645" stroke-width="1.25" stroke-opacity="0.88"/>
<rect x="572.75" y="340" width="3.5" height="5.0" fill="#f23645"/>
<path d="M578.5 338V352" stroke="#f23645" stroke-width="1.25" stroke-opacity="0.88"/>
<rect x="576.75" y="344" width="3.5" height="3.0" fill="#f23645"/>
<path d="M583.5 342V350" stroke="#089981" stroke-width="1.25" stroke-opacity="0.88"/>
<rect x="581.75" y="343" width="3.5" height="4.0" fill="#089981"/>
<path d="M587.5 342V361" stroke="#f23645" stroke-width="1.25" stroke-opacity="0.88"/>
<rect x="585.75" y="343" width="3.5" height="14.0" fill="#f23645"/>
<path d="M592.5 341V358" stroke="#089981" stroke-width="1.25" stroke-opacity="0.88"/>
<rect x="590.75" y="348" width="3.5" height="9.0" fill="#089981"/>
<path d="M596.5 314.5V349" stroke="#089981" stroke-width="1.25" stroke-opacity="0.88"/>
<rect x="594.75" y="323" width="3.5" height="25.0" fill="#089981"/>
<path d="M601.5 297V325" stroke="#089981" stroke-width="1.25" stroke-opacity="0.88"/>
<rect x="599.75" y="302" width="3.5" height="22.0" fill="#089981"/>
<path d="M605.5 282V328" stroke="#f23645" stroke-width="1.25" stroke-opacity="0.88"/>
<rect x="603.75" y="302" width="3.5" height="22.0" fill="#f23645"/>
<path d="M610.5 305.4V331.7" stroke="#089981" stroke-width="1.25" stroke-opacity="0.88"/>
<rect x="608.75" y="315.3" width="3.5" height="8.2" fill="#089981"/>
<path d="M614.5 312.5V345.5" stroke="#f23645" stroke-width="1.25" stroke-opacity="0.88"/>
<rect x="612.75" y="315" width="3.5" height="20.0" fill="#f23645"/>
<path d="M619.5 332V352.5" stroke="#f23645" stroke-width="1.25" stroke-opacity="0.88"/>
<rect x="617.75" y="335" width="3.5" height="17.0" fill="#f23645"/>
<path d="M623.5 321V352.5" stroke="#089981" stroke-width="1.25" stroke-opacity="0.88"/>
<rect x="621.75" y="329.5" width="3.5" height="22.5" fill="#089981"/>
<path d="M628.5 311V332" stroke="#089981" stroke-width="1.25" stroke-opacity="0.88"/>
<rect x="626.75" y="320" width="3.5" height="10.0" fill="#089981"/>
<path d="M633.5 309V329" stroke="#089981" stroke-width="1.25" stroke-opacity="0.88"/>
<rect x="631.75" y="316" width="3.5" height="4.5" fill="#089981"/>
<path d="M637.5 311V324" stroke="#089981" stroke-width="1.25" stroke-opacity="0.88"/>
<rect x="636.00" y="314" width="3" height="2.0" fill="#089981"/>
<path d="M642.5 310V322.5" stroke="#089981" stroke-width="1.25" stroke-opacity="0.88"/>
<rect x="641.00" y="312.5" width="3" height="1.5" fill="#089981"/>
<path d="M646.5 285V317.5" stroke="#089981" stroke-width="1.25" stroke-opacity="0.88"/>
<rect x="644.75" y="292.5" width="3.5" height="20.5" fill="#089981"/>
<path d="M651.5 273V315" stroke="#089981" stroke-width="1.25" stroke-opacity="0.88"/>
<rect x="649.75" y="283" width="3.5" height="10.0" fill="#089981"/>
<path d="M655.5 281V302.5" stroke="#f23645" stroke-width="1.25" stroke-opacity="0.88"/>
<rect x="653.75" y="283" width="3.5" height="17.5" fill="#f23645"/>
<path d="M660.5 288V314" stroke="#f23645" stroke-width="1.25" stroke-opacity="0.88"/>
<rect x="658.75" y="300" width="3.5" height="7.0" fill="#f23645"/>
<path d="M664.5 301V313" stroke="#089981" stroke-width="1.25" stroke-opacity="0.88"/>
<rect x="663.00" y="303" width="3" height="4.0" fill="#089981"/>
<path d="M669.5 281V306" stroke="#089981" stroke-width="1.25" stroke-opacity="0.88"/>
<rect x="667.75" y="282.5" width="3.5" height="21.5" fill="#089981"/>
<path d="M673.5 277.5V289" stroke="#089981" stroke-width="1.25" stroke-opacity="0.88"/>
<rect x="672.00" y="281" width="3" height="2.0" fill="#089981"/>
<path d="M678.5 250V289" stroke="#089981" stroke-width="1.25" stroke-opacity="0.88"/>
<rect x="676.75" y="259" width="3.5" height="23.5" fill="#089981"/>
<path d="M682.5 237.5V261" stroke="#089981" stroke-width="1.25" stroke-opacity="0.88"/>
<rect x="680.75" y="252" width="3.5" height="7.0" fill="#089981"/>
<path d="M687.5 230V264" stroke="#f23645" stroke-width="1.25" stroke-opacity="0.88"/>
<rect x="686.00" y="251" width="3" height="2.0" fill="#f23645"/>
<path d="M692.5 188V258" stroke="#089981" stroke-width="1.25" stroke-opacity="0.88"/>
<rect x="690.75" y="215" width="3.5" height="39.0" fill="#089981"/>
<path d="M696.5 176V229" stroke="#089981" stroke-width="1.25" stroke-opacity="0.88"/>
<rect x="694.75" y="189.5" width="3.5" height="26.0" fill="#089981"/>
<path d="M701.5 167.5V196" stroke="#f23645" stroke-width="1.25" stroke-opacity="0.88"/>
<rect x="700.00" y="189.5" width="3" height="3.0" fill="#f23645"/>
<path d="M705.5 191V252" stroke="#f23645" stroke-width="1.25" stroke-opacity="0.88"/>
<rect x="703.75" y="192.5" width="3.5" height="15.0" fill="#f23645"/>
<path d="M709.5 194V246" stroke="#f23645" stroke-width="1.25" stroke-opacity="0.88"/>
<rect x="707.75" y="207.5" width="3.5" height="31.5" fill="#f23645"/>
<path d="M714.5 203V239.5" stroke="#089981" stroke-width="1.25" stroke-opacity="0.88"/>
<rect x="712.75" y="207" width="3.5" height="32.0" fill="#089981"/>
<path d="M719.5 188V239.5" stroke="#089981" stroke-width="1.25" stroke-opacity="0.88"/>
<rect x="717.75" y="197.5" width="3.5" height="10.0" fill="#089981"/>
<path d="M723.5 188V216" stroke="#f23645" stroke-width="1.25" stroke-opacity="0.88"/>
<rect x="721.75" y="197.5" width="3.5" height="16.5" fill="#f23645"/>
<path d="M727.5 196V222.5" stroke="#089981" stroke-width="1.25" stroke-opacity="0.88"/>
<rect x="725.75" y="203" width="3.5" height="11.0" fill="#089981"/>
<path d="M732.5 180V213" stroke="#f23645" stroke-width="1.25" stroke-opacity="0.88"/>
<rect x="730.75" y="203" width="3.5" height="4.0" fill="#f23645"/>
<path d="M736.5 189V212.5" stroke="#089981" stroke-width="1.25" stroke-opacity="0.88"/>
<rect x="734.75" y="189.5" width="3.5" height="17.5" fill="#089981"/>
<path d="M741.5 174V200.5" stroke="#089981" stroke-width="1.25" stroke-opacity="0.88"/>
<rect x="739.75" y="176" width="3.5" height="14.0" fill="#089981"/>
<path d="M746.5 138V181" stroke="#089981" stroke-width="1.25" stroke-opacity="0.88"/>
<rect x="744.75" y="156" width="3.5" height="21.0" fill="#089981"/>
<path d="M750.5 134V178" stroke="#089981" stroke-width="1.25" stroke-opacity="0.88"/>
<rect x="748.75" y="144" width="3.5" height="12.0" fill="#089981"/>
<path d="M754.5 124V157.5" stroke="#089981" stroke-width="1.25" stroke-opacity="0.88"/>
<rect x="753.00" y="137" width="3" height="7.0" fill="#089981"/>
<path d="M759.5 137V157" stroke="#f23645" stroke-width="1.25" stroke-opacity="0.88"/>
<rect x="757.75" y="137.5" width="3.5" height="11.5" fill="#f23645"/>
<path d="M764.5 144V193" stroke="#f23645" stroke-width="1.25" stroke-opacity="0.88"/>
<rect x="762.50" y="148" width="4" height="4.0" fill="#f23645"/>
<path d="M770.5 150V189.5" stroke="#f23645" stroke-width="1.25" stroke-opacity="0.88"/>
<rect x="768.50" y="151" width="4" height="31.5" fill="#f23645"/>
<path d="M774.5 165V187.5" stroke="#089981" stroke-width="1.25" stroke-opacity="0.88"/>
<rect x="774.00" y="181" width="1" height="1.0" fill="#089981"/>
<path d="M779.5 170.5V242" stroke="#f23645" stroke-width="1.25" stroke-opacity="0.88"/>
<rect x="776.75" y="181" width="5.5" height="14.0" fill="#f23645"/>
<path d="M785.5 175.5V204" stroke="#089981" stroke-width="1.25" stroke-opacity="0.88"/>
<rect x="783.75" y="184" width="3.5" height="11.0" fill="#089981"/>
<path d="M790.5 181V205" stroke="#f23645" stroke-width="1.25" stroke-opacity="0.88"/>
<rect x="788.75" y="184" width="3.5" height="20.0" fill="#f23645"/>
<path d="M795.5 201V257.5" stroke="#f23645" stroke-width="1.25" stroke-opacity="0.88"/>
<rect x="793.75" y="203" width="3.5" height="24.5" fill="#f23645"/>
<path d="M799.5 207V255.5" stroke="#089981" stroke-width="1.25" stroke-opacity="0.88"/>
<rect x="798.00" y="221" width="3" height="6.5" fill="#089981"/>
<path d="M804.5 221V242.5" stroke="#f23645" stroke-width="1.25" stroke-opacity="0.88"/>
<rect x="802.75" y="222" width="3.5" height="4.0" fill="#f23645"/>
<path d="M808.5 199.5V234" stroke="#089981" stroke-width="1.25" stroke-opacity="0.88"/>
<rect x="806.75" y="207" width="3.5" height="19.0" fill="#089981"/>
<path d="M813.5 194.5V210" stroke="#089981" stroke-width="1.25" stroke-opacity="0.88"/>
<rect x="811.75" y="198" width="3.5" height="9.0" fill="#089981"/>
<path d="M818.5 190.5V220" stroke="#089981" stroke-width="1.25" stroke-opacity="0.88"/>
<rect x="816.75" y="192" width="3.5" height="7.0" fill="#089981"/>
<path d="M822.5 178V208" stroke="#089981" stroke-width="1.25" stroke-opacity="0.88"/>
<rect x="820.75" y="182" width="3.5" height="10.5" fill="#089981"/>
<path d="M826.5 180V209" stroke="#f23645" stroke-width="1.25" stroke-opacity="0.88"/>
<rect x="824.75" y="182" width="3.5" height="23.0" fill="#f23645"/>
<path d="M831.5 202V217.5" stroke="#f23645" stroke-width="1.25" stroke-opacity="0.88"/>
<rect x="829.75" y="204.5" width="3.5" height="8.0" fill="#f23645"/>
<path d="M835.5 211V222" stroke="#f23645" stroke-width="1.25" stroke-opacity="0.88"/>
<rect x="834.00" y="212" width="3" height="2.0" fill="#f23645"/>
<path d="M840.5 212V276.8" stroke="#f23645" stroke-width="1.25" stroke-opacity="0.88"/>
<rect x="838.75" y="213" width="3.5" height="63.3" fill="#f23645"/>
<path d="M845.5 262V282.5" stroke="#089981" stroke-width="1.25" stroke-opacity="0.88"/>
<rect x="844.00" y="263" width="3" height="12.5" fill="#089981"/>
<path d="M9 263H1135" stroke="#089981" stroke-width="1.2" stroke-dasharray="1 1" stroke-opacity="0.55"/>
<path d="M849.6 263.8L887.3 183L1020.4 444" fill="none" stroke="#e0215f" stroke-width="2.7" stroke-linejoin="round" stroke-linecap="round"/>
<path d="M1002.6 438.3L1020.4 444L1027 426" fill="none" stroke="#e0215f" stroke-width="2.7" stroke-linejoin="round" stroke-linecap="round"/>
</g>
<text x="16" y="41.2" font-size="11.5" fill="#2f323b" stroke="#2f323b" stroke-width="0.22" textLength="279.6" lengthAdjust="spacingAndGlyphs">RIVER / TetherUS PERPETUAL CONTRACT · 1h · Binance</text>
<text x="302.6" y="41.2" font-size="11.5" fill="#2f323b" stroke="#2f323b" stroke-width="0.22" textLength="7.2" lengthAdjust="spacingAndGlyphs">O</text>
<text x="310.6" y="41.2" font-size="11.5" fill="#26a69a" stroke="#26a69a" stroke-width="0.22" textLength="34.4" lengthAdjust="spacingAndGlyphs">64.576</text>
<text x="352.4" y="41.2" font-size="11.5" fill="#2f323b" stroke="#2f323b" stroke-width="0.22" textLength="6.4" lengthAdjust="spacingAndGlyphs">H</text>
<text x="359.6" y="41.2" font-size="11.5" fill="#26a69a" stroke="#26a69a" stroke-width="0.22" textLength="35.4" lengthAdjust="spacingAndGlyphs">66.460</text>
<text x="402.8" y="41.2" font-size="11.5" fill="#2f323b" stroke="#2f323b" stroke-width="0.22" textLength="4.4" lengthAdjust="spacingAndGlyphs">L</text>
<text x="408.2" y="41.2" font-size="11.5" fill="#26a69a" stroke="#26a69a" stroke-width="0.22" textLength="34.5" lengthAdjust="spacingAndGlyphs">63.525</text>
<text x="450.3" y="41.2" font-size="11.5" fill="#2f323b" stroke="#2f323b" stroke-width="0.22" textLength="6.6" lengthAdjust="spacingAndGlyphs">C</text>
<text x="457.4" y="41.2" font-size="11.5" fill="#26a69a" stroke="#26a69a" stroke-width="0.22" textLength="34.6" lengthAdjust="spacingAndGlyphs">66.265</text>
<text x="499.2" y="41.2" font-size="11.5" fill="#26a69a" stroke="#26a69a" stroke-width="0.22" textLength="33" lengthAdjust="spacingAndGlyphs">+1.685</text>
<text x="537" y="41.2" font-size="11.5" fill="#26a69a" stroke="#26a69a" stroke-width="0.22" textLength="43.3" lengthAdjust="spacingAndGlyphs">(+2.61%)</text>
<text x="587.9" y="41.2" font-size="11.5" fill="#2f323b" stroke="#2f323b" stroke-width="0.22" textLength="15.2" lengthAdjust="spacingAndGlyphs">Vol</text>
<text x="603.7" y="41.2" font-size="11.5" fill="#26a69a" stroke="#26a69a" stroke-width="0.22" textLength="27.7" lengthAdjust="spacingAndGlyphs">208.9</text>
<text x="633.6" y="41.2" font-size="11.5" fill="#26a69a" stroke="#26a69a" stroke-width="0.22" textLength="6.4" lengthAdjust="spacingAndGlyphs">K</text>
<text x="1142.6" y="56.8" font-size="10.6" fill="#505258" stroke="#505258" stroke-width="0.3" textLength="32.7" lengthAdjust="spacing">96.000</text>
<text x="1142.6" y="85.1" font-size="10.6" fill="#505258" stroke="#505258" stroke-width="0.3" textLength="32.7" lengthAdjust="spacing">92.000</text>
<text x="1142.6" y="113.4" font-size="10.6" fill="#505258" stroke="#505258" stroke-width="0.3" textLength="32.7" lengthAdjust="spacing">88.000</text>
<text x="1142.6" y="141.7" font-size="10.6" fill="#505258" stroke="#505258" stroke-width="0.3" textLength="32.7" lengthAdjust="spacing">84.000</text>
<text x="1142.6" y="170.0" font-size="10.6" fill="#505258" stroke="#505258" stroke-width="0.3" textLength="32.7" lengthAdjust="spacing">80.000</text>
<text x="1142.6" y="198.3" font-size="10.6" fill="#505258" stroke="#505258" stroke-width="0.3" textLength="32.7" lengthAdjust="spacing">76.000</text>
<text x="1142.6" y="226.6" font-size="10.6" fill="#505258" stroke="#505258" stroke-width="0.3" textLength="32.7" lengthAdjust="spacing">72.000</text>
<text x="1142.6" y="254.9" font-size="10.6" fill="#505258" stroke="#505258" stroke-width="0.3" textLength="32.7" lengthAdjust="spacing">68.000</text>
<text x="1142.6" y="283.2" font-size="10.6" fill="#505258" stroke="#505258" stroke-width="0.3" textLength="32.7" lengthAdjust="spacing">64.000</text>
<text x="1142.6" y="311.5" font-size="10.6" fill="#505258" stroke="#505258" stroke-width="0.3" textLength="32.7" lengthAdjust="spacing">60.000</text>
<text x="1142.6" y="339.7" font-size="10.6" fill="#505258" stroke="#505258" stroke-width="0.3" textLength="32.7" lengthAdjust="spacing">56.000</text>
<text x="1142.6" y="368.0" font-size="10.6" fill="#505258" stroke="#505258" stroke-width="0.3" textLength="32.7" lengthAdjust="spacing">52.000</text>
<text x="1142.6" y="396.3" font-size="10.6" fill="#505258" stroke="#505258" stroke-width="0.3" textLength="32.7" lengthAdjust="spacing">48.000</text>
<text x="1142.6" y="424.6" font-size="10.6" fill="#505258" stroke="#505258" stroke-width="0.3" textLength="32.7" lengthAdjust="spacing">44.000</text>
<text x="1142.6" y="452.9" font-size="10.6" fill="#505258" stroke="#505258" stroke-width="0.3" textLength="32.7" lengthAdjust="spacing">40.000</text>
<text x="1142.6" y="481.2" font-size="10.6" fill="#505258" stroke="#505258" stroke-width="0.3" textLength="32.7" lengthAdjust="spacing">36.000</text>
<text x="1142.6" y="509.5" font-size="10.6" fill="#505258" stroke="#505258" stroke-width="0.3" textLength="32.7" lengthAdjust="spacing">32.000</text>
<text x="1142.6" y="537.8" font-size="10.6" fill="#505258" stroke="#505258" stroke-width="0.3" textLength="32.7" lengthAdjust="spacing">28.000</text>
<text x="1142.6" y="566.1" font-size="10.6" fill="#505258" stroke="#505258" stroke-width="0.3" textLength="32.7" lengthAdjust="spacing">24.000</text>
<text x="1142.6" y="594.4" font-size="10.6" fill="#505258" stroke="#505258" stroke-width="0.3" textLength="32.7" lengthAdjust="spacing">20.000</text>
<rect x="1136" y="24" width="55" height="29.3" fill="#f6f6f6"/>
<rect x="1138.3" y="23.6" width="48.1" height="10" fill="#fbfbfb"/>
<rect x="1138.3" y="27.8" width="48.1" height="20.9" rx="3" fill="#ffffff"/>
<text x="1146.4" y="41.7" font-size="10.6" fill="#15171f" stroke="#15171f" stroke-width="0.3" textLength="27.5" lengthAdjust="spacing">USDT</text>
<rect x="1135.3" y="126.9" width="45.2" height="13.9" rx="2" fill="#f23645"/>
<text x="1142.6" y="137.8" font-size="10.6" fill="#ffffff" stroke="#ffffff" stroke-width="0.25" textLength="32.7" lengthAdjust="spacing">84.579</text>
<rect x="1135.3" y="193.1" width="45.2" height="13.8" rx="2" fill="#2962ff"/>
<text x="1142.6" y="204" font-size="10.6" fill="#ffffff" stroke="#ffffff" stroke-width="0.25" textLength="32.7" lengthAdjust="spacing">75.160</text>
<rect x="1135.3" y="256" width="45.2" height="39.1" rx="2" fill="#089981"/>
<text x="1142.6" y="267.1" font-size="10.6" fill="#ffffff" stroke="#ffffff" stroke-width="0.25" textLength="32.7" lengthAdjust="spacing">66.265</text>
<text x="1142.6" y="278.6" font-size="10.4" fill="#ffffff" fill-opacity="0.7" textLength="26.4" lengthAdjust="spacing">56:28</text>
<text x="1142.6" y="292.1" font-size="10.6" fill="#ffffff" stroke="#ffffff" stroke-width="0.25" textLength="32.7" lengthAdjust="spacing">65.740</text>
<text x="126.9" y="629" font-size="10.3" letter-spacing="0.3" fill="#505258" stroke="#505258" stroke-width="0.25" text-anchor="middle">22</text>
<text x="280.5" y="629" font-size="10.3" letter-spacing="0.3" fill="#505258" stroke="#505258" stroke-width="0.25" text-anchor="middle">23</text>
<text x="456.5" y="629" font-size="10.3" letter-spacing="0.3" fill="#505258" stroke="#505258" stroke-width="0.25" text-anchor="middle">24</text>
<text x="569.7" y="629" font-size="10.3" letter-spacing="0.3" fill="#505258" stroke="#505258" stroke-width="0.25" text-anchor="middle">25</text>
<text x="678.2" y="629" font-size="10.3" letter-spacing="0.3" fill="#131722" stroke="#131722" stroke-width="0.25" text-anchor="middle" font-weight="bold">26</text>
<text x="790.2" y="629" font-size="10.3" letter-spacing="0.3" fill="#505258" stroke="#505258" stroke-width="0.25" text-anchor="middle">27</text>
<text x="909.2" y="629" font-size="10.3" letter-spacing="0.3" fill="#505258" stroke="#505258" stroke-width="0.25" text-anchor="middle">28</text>
<text x="1037.0" y="629" font-size="10.3" letter-spacing="0.3" fill="#505258" stroke="#505258" stroke-width="0.25" text-anchor="middle">29</text>
<g fill="#e2e2e2">
<path d="M10.3 656.5H21.2V670H15.8V661.7H10.3Z"/>
<circle cx="25.6" cy="659.3" r="2.8"/>
<path d="M30.8 656.5H36.9L32 670H25.7Z"/>
<text x="43.4" y="670" font-size="18.6" font-weight="bold" textLength="107" lengthAdjust="spacing">TradingView</text>
</g>
</svg></body></html>
